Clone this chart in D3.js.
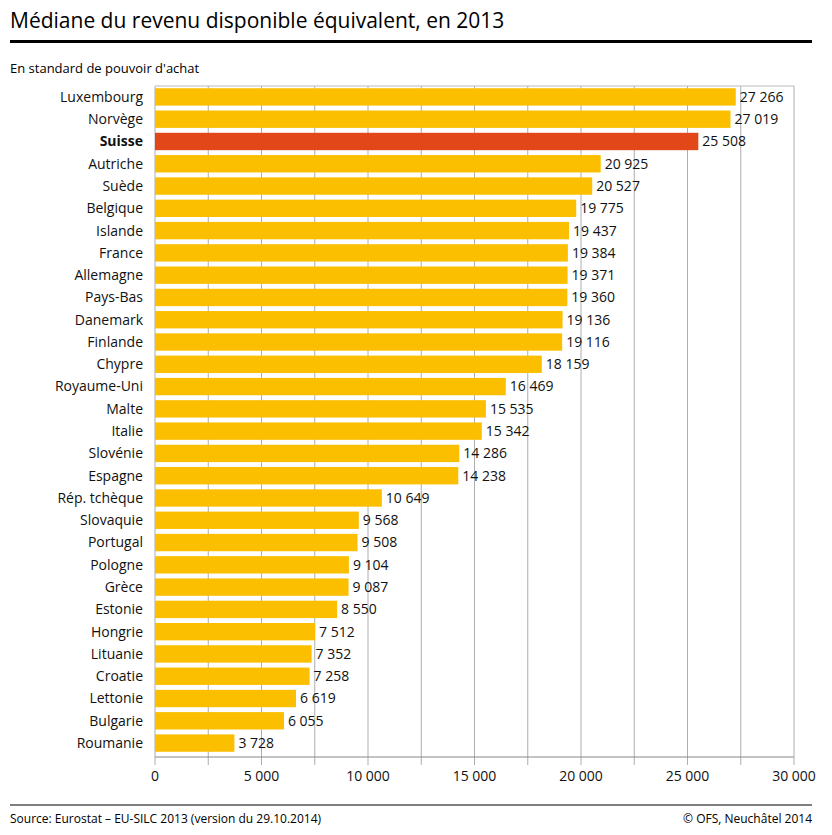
<!DOCTYPE html><html><head><meta charset="utf-8"><script src="https://d3js.org/d3.v7.min.js"></script>
<style>body{margin:0;background:#fff}text{font-family:"Open Sans","Noto Sans",sans-serif}</style></head><body>
<svg id="c" width="832" height="835"></svg>
<script>
const countries=["Luxembourg","Norvège","Suisse","Autriche","Suède","Belgique","Islande","France","Allemagne","Pays-Bas","Danemark","Finlande","Chypre","Royaume-Uni","Malte","Italie","Slovénie","Espagne","Rép. tchèque","Slovaquie","Portugal","Pologne","Grèce","Estonie","Hongrie","Lituanie","Croatie","Lettonie","Bulgarie","Roumanie"];
const values=[27266,27019,25508,20925,20527,19775,19437,19384,19371,19360,19136,19116,18159,16469,15535,15342,14286,14238,10649,9568,9508,9104,9087,8550,7512,7352,7258,6619,6055,3728];
const ticks=[0,5000,10000,15000,20000,25000,30000];
const svg=d3.select("#c");
const fmt=v=>d3.format(",")(v).replace(/,/g," ");
const x=d3.scaleLinear().domain([0,30000]).range([155,794]);
const y=d3.scaleBand().domain(countries).range([86,754]).paddingInner(0.22).paddingOuter(0.1);
svg.append("text").attr("x",10).attr("y",28).attr("font-size",21).attr("font-weight",500).text("Médiane du revenu disponible équivalent, en 2013");
svg.append("rect").attr("x",10).attr("y",40).attr("width",802).attr("height",3).attr("fill","#000");
svg.append("text").attr("x",10).attr("y",73).attr("font-size",13).text("En standard de pouvoir d'achat");
const grid=d3.range(0,30001,2500);
svg.selectAll(".g").data(grid).join("line").attr("x1",d=>x(d)).attr("x2",d=>x(d)).attr("y1",86).attr("y2",765).attr("stroke","#999").attr("stroke-width",0.8);
svg.append("line").attr("x1",155).attr("x2",794).attr("y1",86).attr("y2",86).attr("stroke","#bbb");
svg.append("line").attr("x1",155).attr("x2",794).attr("y1",757).attr("y2",757).attr("stroke","#888");
svg.selectAll(".b").data(countries).join("rect").attr("x",x(0)).attr("y",d=>y(d)).attr("height",y.bandwidth()).attr("width",(d,i)=>x(values[i])-x(0)).attr("fill",d=>d==="Suisse"?"#e2471a":"#fcbf00");
svg.selectAll(".v").data(countries).join("text").attr("x",(d,i)=>x(values[i])+4).attr("y",d=>y(d)+y.bandwidth()/2).attr("dy","0.35em").attr("font-size",14).attr("fill","#111").text((d,i)=>fmt(values[i]));
svg.selectAll(".l").data(countries).join("text").attr("x",143).attr("y",d=>y(d)+y.bandwidth()/2).attr("dy","0.35em").attr("text-anchor","end").attr("font-size",14).attr("font-weight",d=>d==="Suisse"?"bold":"normal").attr("fill","#111").text(d=>d);
svg.selectAll(".t").data(ticks).join("text").attr("x",d=>x(d)).attr("y",781).attr("text-anchor","middle").attr("font-size",14).attr("fill","#111").text(fmt);
svg.append("line").attr("x1",10).attr("x2",812).attr("y1",805).attr("y2",805).attr("stroke","#000").attr("stroke-width",1.2);
svg.append("text").attr("x",10).attr("y",823).attr("font-size",12).text("Source: Eurostat – EU-SILC 2013 (version du 29.10.2014)");
svg.append("text").attr("x",812).attr("y",823).attr("text-anchor","end").attr("font-size",12).text("© OFS, Neuchâtel 2014");
</script></body></html>
